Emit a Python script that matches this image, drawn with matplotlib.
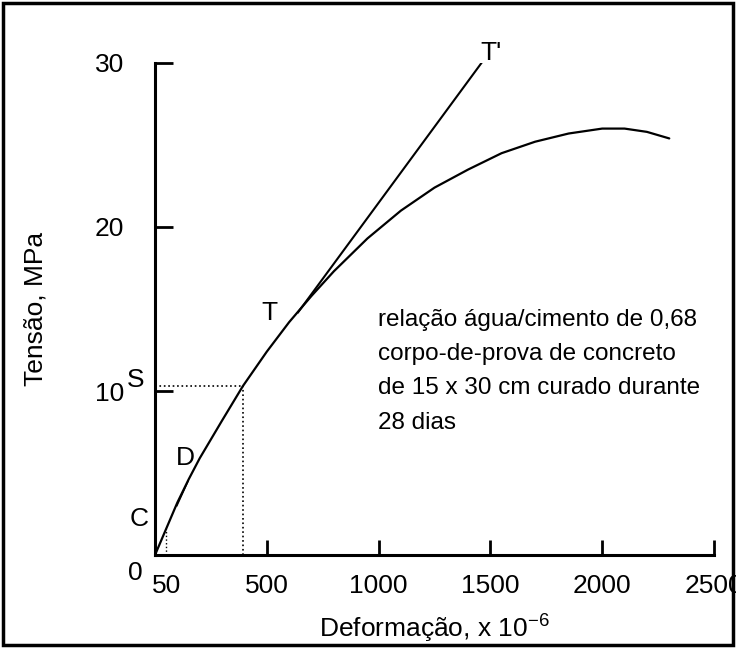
import matplotlib.pyplot as plt
from matplotlib.patches import Rectangle

plt.rcParams['font.family'] = ['Liberation Sans', 'DejaVu Sans']
plt.rcParams['mathtext.fontset'] = 'custom'
plt.rcParams['mathtext.rm'] = 'Liberation Sans'
plt.rcParams['mathtext.it'] = 'Liberation Sans'

# stress-strain curve
strain = [0, 50, 100, 150, 200, 300, 393, 500, 600, 700, 800, 950, 1100,
          1250, 1400, 1550, 1700, 1850, 2000, 2100, 2200, 2300]
stress = [0, 1.6, 3.2, 4.6, 5.9, 8.2, 10.3, 12.4, 14.2, 15.8, 17.3, 19.3,
          21.0, 22.4, 23.5, 24.5, 25.2, 25.7, 26.0, 26.0, 25.8, 25.4]

# tangent T-T'
tan_strain = [640, 1460]
tan_stress = [14.8, 30.0]

# short chord C-D
cd_strain = [98, 148]
cd_stress = [3.0, 4.5]

# point S
s_strain = 393
s_stress = 10.3
c_strain = 50
c_stress = 1.6

xticks = [50, 500, 1000, 1500, 2000, 2500]
yticks = [10, 20, 30]

note = ("relação água/cimento de 0,68\n"
        "corpo-de-prova de concreto\n"
        "de 15 x 30 cm curado durante\n"
        "28 dias")

fig = plt.figure(figsize=(7.36, 6.48), dpi=100)
ax = fig.add_axes([0.2106, 0.1435, 0.7595, 0.7593])

ax.plot(strain, stress, color='black', lw=1.6, solid_capstyle='round')
ax.plot(tan_strain, tan_stress, color='black', lw=1.5)
ax.plot(cd_strain, cd_stress, color='black', lw=1.0)

ax.plot([0, s_strain], [s_stress, s_stress], color='black', lw=1.2, ls=':')
ax.plot([s_strain, s_strain], [0, s_stress], color='black', lw=1.2, ls=':')
ax.plot([c_strain, c_strain], [0, c_stress], color='black', lw=1.0, ls=':')

ax.set_xlim(0, 2500)
ax.set_ylim(0, 30)
ax.spines['top'].set_visible(False)
ax.spines['right'].set_visible(False)
ax.spines['left'].set_linewidth(2.2)
ax.spines['bottom'].set_linewidth(2.2)

ax.set_xticks(xticks)
ax.set_xticklabels([str(v) for v in xticks])
ax.set_yticks(yticks)
ax.set_yticklabels([str(v) for v in yticks])
ax.tick_params(axis='y', direction='in', length=13, width=2.0, pad=22,
               labelsize=19)
ax.tick_params(axis='x', direction='in', length=11, width=2.0, pad=14,
               labelsize=19)
ax.xaxis.get_major_ticks()[0].tick1line.set_visible(False)

ax.text(-89, -1.1, '0', fontsize=19, ha='center', va='center', clip_on=False)
ax.text(-71, 2.2, 'C', fontsize=19, ha='center', va='center', clip_on=False)
ax.text(138, 5.9, 'D', fontsize=19, ha='center', va='center')
ax.text(-85, 10.7, 'S', fontsize=19, ha='center', va='center', clip_on=False)
ax.text(513, 14.75, 'T', fontsize=19, ha='center', va='center')
ax.text(1504, 30.6, "T'", fontsize=19, ha='center', va='center', clip_on=False)

ax.text(996, 15.0, note, fontsize=17.5, ha='left', va='top', linespacing=1.72)

ax.set_xlabel('Deformação, x 10$^{-6}$', fontsize=19, labelpad=10)
ax.set_ylabel('Tensão, MPa', fontsize=19, labelpad=34)

fig.patches.append(Rectangle((0.004, 0.004), 0.992, 0.992,
                             transform=fig.transFigure, fill=False,
                             lw=2.5, edgecolor='black'))

fig.savefig('out.png', dpi=100)
